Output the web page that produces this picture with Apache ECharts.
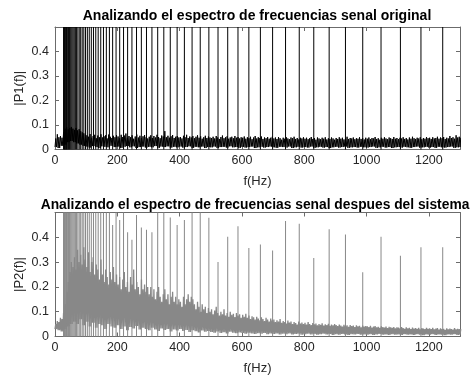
<!DOCTYPE html>
<html><head><meta charset="utf-8">
<script src="https://cdn.jsdelivr.net/npm/echarts@6/dist/echarts.min.js"></script>
<style>html,body{margin:0;padding:0;background:#fff}#c{width:476px;height:379px}</style>
</head><body><div id="c"></div>
<script>
// Musical-note spike frequencies (Hz), A0 .. D#6
const noteFreqs = [27.5,29.14,30.87,32.70,34.65,36.71,38.89,41.20,43.65,46.25,49.00,51.91,
55.00,58.27,61.74,65.41,69.30,73.42,77.78,82.41,87.31,92.50,98.00,103.83,
110.0,116.54,123.47,130.81,138.59,146.83,155.56,164.81,174.61,185.00,196.00,207.65,
220.0,233.08,246.94,261.63,277.18,293.66,311.13,329.63,349.23,369.99,392.00,415.30,
440.0,466.16,493.88,523.25,554.37,587.33,622.25,659.26,698.46,739.99,783.99,830.61,
880.0,932.33,987.77,1046.50,1108.73,1174.66,1244.51];

// spike heights, original signal (all clipped at top)
const p1SpikeHeights = [1,1,1,1,1,1,1,1,1,1,1,1,
1,1,1,1,1,1,1,1,1,1,1,1,
1,1,1,1,1,1,1,1,1,1,1,1,
1,1,1,1,1,1,1,1,1,1,1,1,
1,1,1,1,1,1,1,1,1,1,1,1,
1,1,1,1,1,1,1];

// spike heights, after the system
const p2SpikeHeights = [1,1,1,1,1,1,1,1,1,1,1,1,
1,1,1,1,1,1,1,1,1,1,1,1,
1,1,1,1,1,1,1,1,1,0.45,1,0.47,
1,0.42,0.39,0.49,0.44,0.43,0.42,1,1,0.48,0.45,0.47,
1,1,0.479,0.30,0.402,0.445,0.357,0.371,0.347,0.466,0.455,0.317,
0.432,0.411,0.259,0.402,0.326,0.36,0.36];

// noise envelope: peaks every 5 Hz, troughs every 10 Hz
const hiStepHz = 5;
const loStepHz = 10;
const p1NoiseHi = [
0.045,0.062,0.050,0.055,0.048,0.070,0.085,0.090,0.082,0.088,0.092,0.085,0.080,0.088,0.078,0.083,0.075,0.070,0.066,0.060,
0.058,0.052,0.063,0.048,0.055,0.060,0.046,0.057,0.050,0.062,0.049,0.054,0.058,0.045,0.061,0.052,0.047,0.056,0.050,0.059,
0.053,0.046,0.060,0.051,0.057,0.065,0.048,0.055,0.050,0.058,0.044,0.053,0.061,0.049,0.056,0.047,0.054,0.059,0.050,0.045,
0.052,0.058,0.047,0.055,0.049,0.060,0.051,0.046,0.057,0.053,0.075,0.050,0.056,0.048,0.054,0.059,0.047,0.052,0.055,0.049,
0.051,0.045,0.056,0.050,0.060,0.047,0.053,0.049,0.055,0.046,0.052,0.058,0.048,0.054,0.044,0.050,0.056,0.047,0.053,0.049,
0.047,0.052,0.045,0.055,0.049,0.043,0.051,0.057,0.046,0.050,0.054,0.044,0.049,0.052,0.046,0.055,0.048,0.051,0.045,0.050,
0.048,0.053,0.044,0.050,0.046,0.052,0.042,0.049,0.055,0.045,0.050,0.047,0.053,0.043,0.049,0.046,0.051,0.044,0.048,0.052,
0.045,0.049,0.043,0.051,0.046,0.040,0.048,0.044,0.050,0.045,0.042,0.049,0.046,0.052,0.043,0.047,0.041,0.048,0.045,0.050,
0.044,0.048,0.042,0.046,0.051,0.043,0.047,0.040,0.049,0.045,0.042,0.048,0.044,0.050,0.041,0.046,0.043,0.049,0.045,0.040,
0.047,0.043,0.050,0.044,0.048,0.041,0.046,0.052,0.043,0.047,0.045,0.049,0.042,0.046,0.044,0.050,0.043,0.047,0.041,0.048,
0.044,0.049,0.042,0.047,0.045,0.051,0.043,0.046,0.040,0.048,0.044,0.050,0.045,0.042,0.049,0.046,0.043,0.051,0.044,0.047,
0.042,0.048,0.045,0.050,0.043,0.047,0.041,0.049,0.044,0.052,0.046,0.043,0.048,0.045,0.050,0.042,0.047,0.044,0.051,0.046,
0.048,0.043,0.050,0.045,0.047,0.052,0.044,0.049,0.046,0.051,0.043,0.048,0.045,0.055,0.047,0.050,0.044,0.058,0.049,0.052,
0.048];
const p1NoiseLo = [
0.010,0.006,0.015,0.020,0.030,0.035,0.030,0.025,0.020,0.015,
0.012,0.008,0.014,0.010,0.006,0.013,0.011,0.009,0.015,0.010,
0.012,0.007,0.011,0.014,0.009,0.013,0.006,0.010,0.012,0.008,
0.011,0.009,0.014,0.007,0.012,0.010,0.013,0.008,0.011,0.009,
0.012,0.008,0.010,0.013,0.007,0.011,0.009,0.012,0.006,0.010,
0.009,0.012,0.007,0.010,0.011,0.008,0.013,0.009,0.010,0.007,
0.011,0.008,0.010,0.012,0.006,0.009,0.011,0.008,0.010,0.012,
0.009,0.007,0.011,0.010,0.008,0.012,0.006,0.009,0.011,0.008,
0.010,0.008,0.012,0.007,0.009,0.011,0.008,0.010,0.006,0.009,
0.011,0.008,0.010,0.012,0.007,0.009,0.010,0.008,0.011,0.009,
0.008,0.010,0.012,0.007,0.009,0.011,0.008,0.010,0.006,0.009,
0.010,0.008,0.011,0.009,0.007,0.010,0.012,0.008,0.009,0.011,
0.008,0.010,0.007,0.011,0.009,0.008,0.010,0.012,0.007,0.009,
0.010];
const p2NoiseHi = [
0.050,0.062,0.058,0.075,0.070,0.095,0.130,0.180,0.220,0.260,0.300,0.280,0.320,0.270,0.350,0.300,0.330,0.290,0.360,0.310,
0.280,0.340,0.260,0.300,0.320,0.250,0.290,0.270,0.230,0.310,0.250,0.220,0.270,0.240,0.210,0.260,0.230,0.280,0.220,0.250,
0.210,0.240,0.190,0.230,0.260,0.200,0.220,0.180,0.240,0.210,0.270,0.190,0.220,0.200,0.170,0.230,0.190,0.210,0.180,0.200,
0.170,0.200,0.160,0.190,0.150,0.180,0.200,0.160,0.140,0.170,0.190,0.150,0.170,0.130,0.160,0.180,0.140,0.160,0.130,0.150,
0.140,0.120,0.160,0.130,0.150,0.170,0.140,0.160,0.150,0.130,0.110,0.140,0.120,0.100,0.130,0.110,0.120,0.095,0.115,0.100,
0.110,0.090,0.105,0.120,0.095,0.085,0.100,0.090,0.110,0.085,0.095,0.080,0.100,0.088,0.092,0.078,0.095,0.085,0.090,0.075,
0.088,0.080,0.092,0.075,0.085,0.070,0.082,0.078,0.068,0.080,0.072,0.065,0.078,0.070,0.062,0.075,0.068,0.060,0.072,0.065,
0.068,0.058,0.065,0.060,0.070,0.055,0.062,0.058,0.052,0.064,0.056,0.060,0.050,0.058,0.054,0.048,0.060,0.052,0.056,0.050,
0.055,0.048,0.058,0.050,0.046,0.054,0.049,0.052,0.045,0.050,0.047,0.053,0.044,0.049,0.046,0.051,0.043,0.048,0.045,0.050,
0.046,0.042,0.048,0.044,0.040,0.047,0.043,0.045,0.039,0.046,0.042,0.044,0.038,0.045,0.041,0.043,0.037,0.044,0.040,0.042,
0.041,0.038,0.043,0.036,0.040,0.042,0.037,0.039,0.035,0.041,0.038,0.036,0.040,0.034,0.039,0.037,0.035,0.038,0.033,0.037,
0.036,0.033,0.038,0.034,0.031,0.037,0.033,0.035,0.030,0.036,0.032,0.034,0.031,0.035,0.029,0.034,0.032,0.030,0.035,0.031,
0.033,0.030,0.035,0.029,0.032,0.034,0.028,0.033,0.030,0.031,0.027,0.033,0.029,0.032,0.030,0.028,0.034,0.029,0.031,0.030,
0.030];
const p2NoiseLo = [
0.030,0.025,0.020,0.030,0.040,0.050,0.060,0.050,0.070,0.045,
0.060,0.040,0.055,0.035,0.050,0.045,0.030,0.050,0.040,0.035,
0.045,0.030,0.040,0.025,0.038,0.032,0.042,0.028,0.035,0.030,
0.025,0.035,0.028,0.022,0.032,0.026,0.030,0.020,0.028,0.024,
0.030,0.022,0.026,0.018,0.025,0.021,0.016,0.024,0.019,0.022,
0.018,0.015,0.020,0.014,0.017,0.012,0.019,0.015,0.013,0.016,
0.014,0.011,0.015,0.012,0.010,0.013,0.011,0.014,0.009,0.012,
0.010,0.012,0.008,0.011,0.009,0.012,0.008,0.010,0.011,0.007,
0.009,0.011,0.008,0.010,0.007,0.009,0.011,0.008,0.010,0.006,
0.009,0.007,0.010,0.008,0.006,0.009,0.008,0.010,0.007,0.008,
0.007,0.009,0.006,0.008,0.010,0.007,0.008,0.006,0.009,0.007,
0.008,0.006,0.009,0.007,0.008,0.006,0.009,0.007,0.005,0.008,
0.007,0.009,0.006,0.008,0.007,0.005,0.008,0.007,0.009,0.006,
0.007];

const xMin = 0, xMax = 1300, xStep = 200;
const yMin = 0, yMax = 0.5, yStep = 0.1;
const titles = ['Analizando el espectro de frecuencias senal original',
                'Analizando el espectro de frecuencias senal despues del sistema'];
const yNames = ['|P1(f)|', '|P2(f)|'];
const xName = 'f(Hz)';

function noiseLine(hi, lo) {
  const out = [];
  for (let i = 0; i < hi.length; i++) {
    const f = i * hiStepHz;
    out.push([f, lo[Math.floor(f / loStepHz)]]);
    out.push([f + hiStepHz / 2, hi[i]]);
  }
  return out;
}
function spikes(h) { return noteFreqs.map((f, i) => [f, h[i]]); }

const FONT = '"Liberation Sans", Arial, Helvetica, sans-serif';
const boxColor = '#6b6b6b';
const labelColor = '#262626';

function xAxes(gi) {
  const base = { gridIndex: gi, type: 'value', min: xMin, max: xMax, interval: xStep,
    splitLine: { show: false },
    axisLine: { show: true, onZero: false, lineStyle: { color: boxColor, width: 1 } },
    axisTick: { show: true, inside: true, length: 4, lineStyle: { color: boxColor } } };
  return [
    Object.assign({}, base, { position: 'bottom',
      axisLabel: { show: true, color: labelColor, fontSize: 12.5, fontFamily: FONT, margin: 5,
        showMaxLabel: false, formatter: v => String(v) },
      name: xName, nameLocation: 'middle', nameGap: 25, nameMoveOverlap: false,
      nameTextStyle: { color: labelColor, fontSize: 13, fontFamily: FONT } }),
    Object.assign({}, base, { position: 'top', axisLabel: { show: false } })
  ];
}
function yAxes(gi) {
  const base = { gridIndex: gi, type: 'value', min: yMin, max: yMax, interval: yStep,
    splitLine: { show: false },
    axisLine: { show: true, onZero: false, lineStyle: { color: boxColor, width: 1 } },
    axisTick: { show: true, inside: true, length: 4, lineStyle: { color: boxColor } } };
  return [
    Object.assign({}, base, { position: 'left',
      axisLabel: { show: true, color: labelColor, fontSize: 12.5, fontFamily: FONT, margin: 6, showMaxLabel: false },
      name: yNames[gi], nameLocation: 'middle', nameGap: 29, nameRotate: 90, nameMoveOverlap: false,
      nameTextStyle: { color: labelColor, fontSize: 13, fontFamily: FONT } }),
    Object.assign({}, base, { position: 'right', axisLabel: { show: false } })
  ];
}

const chart = echarts.init(document.getElementById('c'), null, { renderer: 'canvas' });
chart.setOption({
  animation: false,
  backgroundColor: '#fff',
  title: [
    { text: titles[0], left: 252, top: 4, textAlign: 'center',
      textStyle: { fontSize: 14, fontWeight: 'bold', color: '#000', fontFamily: FONT } },
    { text: titles[1], left: 250, top: 193, textAlign: 'center',
      textStyle: { fontSize: 13.8, fontWeight: 'bold', color: '#000', fontFamily: FONT } }
  ],
  grid: [
    { left: 55, top: 27, width: 405, height: 122.5 },
    { left: 55, top: 212.5, width: 405, height: 124 }
  ],
  xAxis: [...xAxes(0), ...xAxes(1)],
  yAxis: [...yAxes(0), ...yAxes(1)],
  series: [
    { type: 'line', xAxisIndex: 0, yAxisIndex: 0, data: noiseLine(p1NoiseHi, p1NoiseLo),
      showSymbol: false, symbol: 'none', lineStyle: { color: '#000', width: 1 }, clip: true, silent: true },
    { type: 'bar', xAxisIndex: 0, yAxisIndex: 0, data: spikes(p1SpikeHeights),
      barWidth: 1, itemStyle: { color: '#000' }, clip: true, silent: true },
    { type: 'line', xAxisIndex: 2, yAxisIndex: 2, data: noiseLine(p2NoiseHi, p2NoiseLo),
      showSymbol: false, symbol: 'none', lineStyle: { color: '#888', width: 1.3 }, clip: true, silent: true },
    { type: 'bar', xAxisIndex: 2, yAxisIndex: 2, data: spikes(p2SpikeHeights),
      barWidth: 1, itemStyle: { color: '#888' }, clip: true, silent: true }
  ]
});
</script>
</body></html>
